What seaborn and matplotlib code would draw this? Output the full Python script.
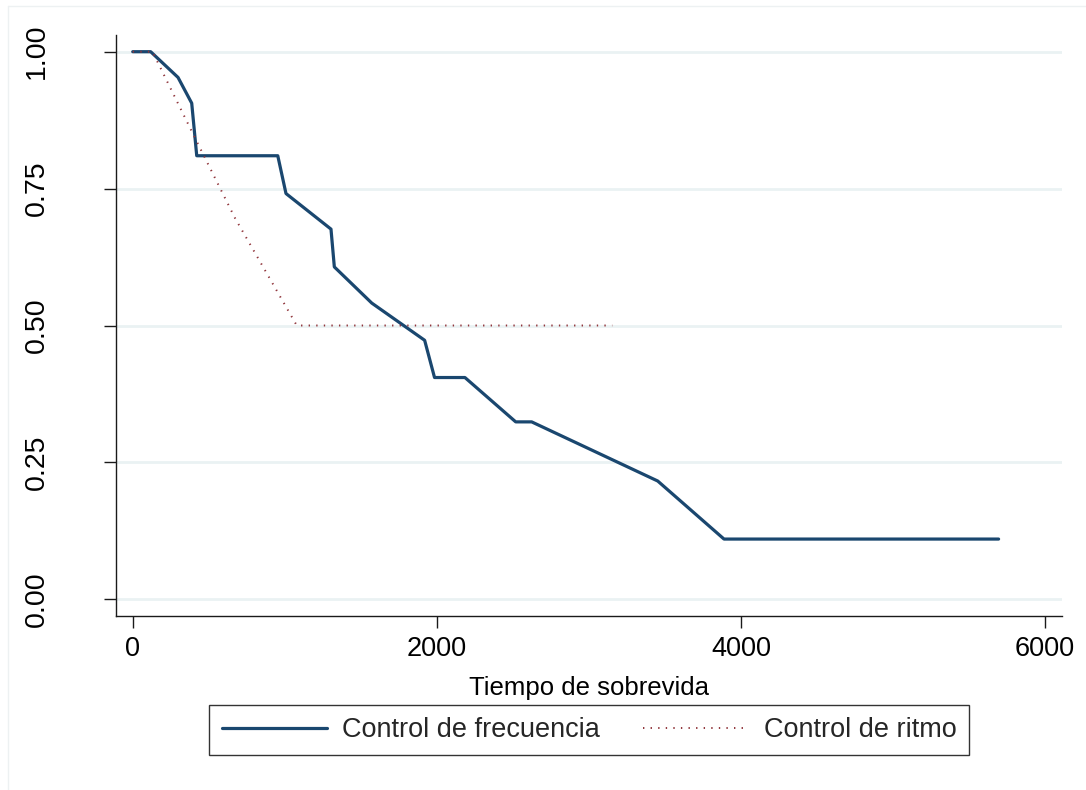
import numpy as np
import pandas as pd
import matplotlib
matplotlib.use("Agg")
import matplotlib.pyplot as plt
from matplotlib.lines import Line2D
import seaborn as sns

# Kaplan-Meier style survival estimates per group
freq_time = [0, 118, 298, 388, 421, 954, 1008, 1304, 1326, 1572, 1920, 1985, 2185, 2519, 2624, 3453, 3889, 5695]
freq_surv = [1.0, 1.0, 0.953, 0.906, 0.810, 0.810, 0.741, 0.676, 0.607, 0.541, 0.473, 0.405, 0.405, 0.324, 0.324, 0.216, 0.110, 0.110]

ritmo_time = [0, 130, 414, 673, 1079, 3154]
ritmo_surv = [1.0, 1.0, 0.840, 0.696, 0.500, 0.500]

group_labels = ["Control de frecuencia", "Control de ritmo"]
x_ticks = [0, 2000, 4000, 6000]
y_ticks = [0.00, 0.25, 0.50, 0.75, 1.00]
x_title = "Tiempo de sobrevida"

navy = "#1A476F"
maroon = "#90353B"
grid_col = "#EAF2F3"
dotted = (0, (0.7, 3.2))

sns.set_theme(style="white")
plt.rcParams["font.family"] = ["Liberation Sans", "DejaVu Sans"]

fig = plt.figure(figsize=(10.86, 7.90), dpi=100)
ax = fig.add_axes([116 / 1086, 1 - 616 / 790, (1062 - 116) / 1086, (616 - 35) / 790])

df_freq = pd.DataFrame({"t": freq_time, "s": freq_surv})
df_ritmo = pd.DataFrame({"t": ritmo_time, "s": ritmo_surv})

for yv in y_ticks:
    ax.axhline(yv, color=grid_col, lw=2.0, zorder=0)

sns.lineplot(data=df_freq, x="t", y="s", ax=ax, color=navy, linewidth=2.3,
             estimator=None, sort=False, zorder=3)
sns.lineplot(data=df_ritmo, x="t", y="s", ax=ax, color=maroon, linewidth=1.4,
             linestyle=dotted, estimator=None, sort=False, zorder=4)

ax.set_xlim(-110, 6112)
ax.set_ylim(-0.0305, 1.0305)
ax.set_xticks(x_ticks)
ax.set_xticklabels([str(v) for v in x_ticks])
ax.set_yticks(y_ticks)
ax.set_yticklabels([f"{v:.2f}" for v in y_ticks])

for side in ["top", "right"]:
    ax.spines[side].set_visible(False)
for side in ["left", "bottom"]:
    ax.spines[side].set_color("#1a1a1a")
    ax.spines[side].set_linewidth(1.0)

ax.tick_params(axis="both", direction="out", length=8.5, width=1.0, color="#1a1a1a",
               labelcolor="black")
ax.tick_params(axis="x", pad=6, bottom=True, labelsize=19.5)
ax.tick_params(axis="y", pad=39, left=True, labelrotation=90, labelsize=20.5)
for lab in ax.get_yticklabels():
    lab.set_verticalalignment("center")

ax.set_xlabel(x_title, fontsize=18.5, color="black", labelpad=10)
ax.set_ylabel("")

handles = [
    Line2D([], [], color=navy, lw=2.3),
    Line2D([], [], color=maroon, lw=1.4, linestyle=dotted),
]
leg = fig.legend(handles, group_labels, loc="center", ncol=2,
                 bbox_to_anchor=(589 / 1086, 1 - 730 / 790),
                 frameon=True, fancybox=False, edgecolor="black", fontsize=19.5,
                 handlelength=3.9, handletextpad=0.55, columnspacing=1.6,
                 borderpad=0.45, borderaxespad=0)
leg.get_frame().set_linewidth(1.0)

# light frame of the graph region
fig.add_artist(Line2D([8 / 1086, 8 / 1086], [0, 1 - 6 / 790], color="#EDF1F2", lw=1.0,
                      transform=fig.transFigure))
fig.add_artist(Line2D([8 / 1086, 1], [1 - 6 / 790, 1 - 6 / 790], color="#EDF1F2", lw=1.0,
                      transform=fig.transFigure))

fig.savefig("out.png", dpi=100, facecolor="white")
